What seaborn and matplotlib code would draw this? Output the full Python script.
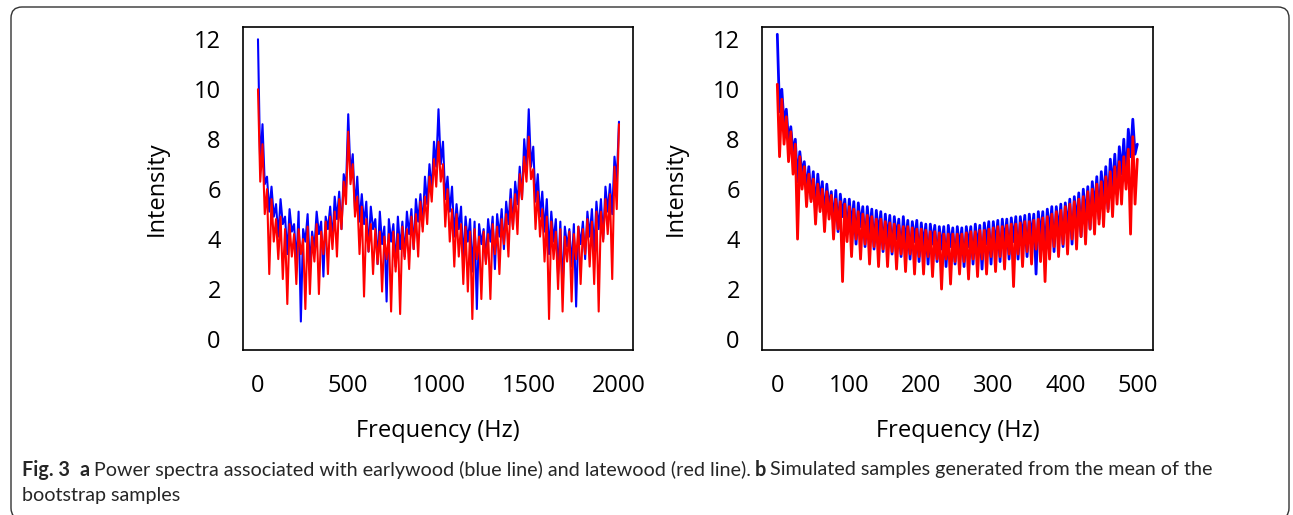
import numpy as np
import pandas as pd
import matplotlib
matplotlib.use("Agg")
import matplotlib.pyplot as plt
from matplotlib.patches import FancyBboxPatch
from matplotlib.transforms import IdentityTransform
import seaborn as sns

# ---------------- data ----------------
# Panel a: frequency 0..2000 Hz, samples every 12.5 Hz (16 values per 200 Hz row)
freq_a = np.linspace(0, 2000, 161)
earlywood_a = [
    12.0, 6.9, 8.6, 6.2, 6.5, 5.1, 6.1, 4.9, 5.4, 4.1, 5.6, 4.6, 4.9, 3.4, 5.2, 4.3,
    4.6, 3.0, 5.1, 0.7, 4.4, 3.9, 5.0, 2.9, 4.3, 3.6, 5.1, 4.2, 4.7, 2.5, 4.9, 4.4,
    5.3, 3.9, 5.7, 4.8, 5.9, 4.4, 6.6, 6.0, 9.0, 6.6, 7.4, 5.2, 6.5, 4.7, 5.8, 4.6,
    5.5, 3.5, 5.3, 4.4, 4.8, 3.0, 5.1, 3.8, 4.5, 1.5, 4.8, 3.9, 4.6, 2.9, 4.9, 3.6,
    4.7, 3.3, 5.1, 4.2, 5.2, 3.6, 5.6, 4.7, 5.8, 4.5, 6.5, 5.4, 7.0, 5.9, 7.9, 6.9,
    9.2, 7.0, 7.9, 5.6, 6.5, 5.1, 6.1, 4.1, 5.4, 4.4, 5.3, 3.1, 4.9, 3.9, 4.8, 2.7,
    4.7, 1.2, 4.6, 3.8, 4.4, 3.1, 4.8, 3.9, 4.9, 2.8, 5.0, 4.1, 5.2, 3.6, 5.5, 4.6,
    6.0, 4.5, 6.3, 5.4, 6.9, 5.6, 8.0, 6.8, 9.2, 6.9, 7.7, 5.5, 6.6, 4.9, 5.9, 4.3,
    5.6, 3.4, 5.1, 3.9, 4.8, 2.6, 4.7, 2.0, 4.5, 3.7, 4.4, 2.9, 4.6, 1.3, 4.5, 3.8,
    4.7, 3.2, 5.1, 4.1, 5.2, 3.5, 5.5, 4.4, 5.6, 4.0, 6.1, 5.1, 6.2, 5.0, 7.3, 6.3,
    8.7,
]
latewood_a = [
    10.0, 6.3, 7.8, 5.0, 6.0, 2.6, 5.6, 3.9, 4.8, 3.2, 4.9, 2.4, 4.4, 1.4, 4.6, 3.3,
    4.2, 2.2, 4.4, 3.4, 4.0, 1.2, 4.5, 1.8, 4.1, 3.1, 4.6, 1.8, 4.3, 3.4, 4.7, 2.6,
    4.9, 3.6, 5.1, 3.3, 5.6, 4.4, 6.3, 5.4, 8.3, 6.2, 7.0, 4.9, 5.7, 3.4, 5.3, 1.7,
    4.8, 3.5, 4.6, 2.6, 4.4, 3.0, 4.3, 1.9, 4.1, 3.2, 4.2, 1.1, 4.3, 2.7, 4.2, 1.0,
    4.5, 3.2, 4.4, 2.8, 4.9, 3.6, 5.0, 3.3, 5.5, 4.3, 5.7, 4.6, 6.5, 5.5, 7.2, 6.1,
    7.9, 6.3, 7.0, 4.5, 6.0, 3.9, 5.2, 2.9, 5.0, 3.3, 4.6, 2.2, 4.5, 1.9, 4.3, 0.8,
    4.4, 3.2, 4.1, 1.6, 4.3, 3.0, 4.2, 1.6, 4.6, 3.4, 4.5, 2.6, 4.8, 3.8, 5.0, 3.3,
    5.6, 4.4, 5.8, 4.2, 6.6, 5.6, 7.3, 6.3, 8.1, 6.4, 6.8, 4.4, 5.9, 4.1, 5.2, 3.1,
    4.9, 0.8, 4.7, 3.2, 4.3, 2.0, 4.4, 1.1, 4.1, 3.1, 4.3, 1.5, 4.2, 3.2, 4.5, 2.2,
    4.4, 3.4, 4.8, 2.9, 4.7, 2.2, 5.1, 1.1, 5.1, 3.9, 5.6, 4.2, 5.8, 2.4, 6.9, 5.2,
    8.6,
]

# Panel b: frequency 0..500 Hz, samples every 3.125 Hz (16 values per 50 Hz row)
freq_b = np.linspace(0, 500, 161)
earlywood_b = [
    12.2, 9.1, 10.0, 8.6, 9.2, 7.9, 8.5, 7.4, 8.0, 6.3, 7.5, 6.6, 7.1, 5.9, 6.9, 5.6,
    6.7, 5.1, 6.6, 5.5, 6.3, 4.8, 6.2, 5.2, 5.9, 4.6, 5.95, 4.3, 5.8, 4.9, 5.6, 4.2,
    5.6, 4.4, 5.5, 3.8, 5.45, 4.5, 5.3, 3.7, 5.3, 4.2, 5.2, 3.6, 5.15, 4.1, 5.1, 3.5,
    5.0, 3.9, 4.95, 3.4, 4.9, 4.0, 4.8, 3.3, 4.9, 3.8, 4.75, 3.2, 4.7, 3.9, 4.75, 3.1,
    4.65, 3.7, 4.6, 3.0, 4.6, 3.8, 4.55, 3.1, 4.5, 3.6, 4.5, 2.9, 4.55, 3.7, 4.45, 3.0,
    4.5, 3.6, 4.45, 2.9, 4.5, 3.7, 4.5, 3.0, 4.6, 3.6, 4.55, 2.8, 4.65, 3.8, 4.7, 3.0,
    4.7, 3.7, 4.75, 3.1, 4.8, 3.8, 4.8, 3.2, 4.85, 3.9, 4.9, 3.2, 4.9, 4.0, 4.95, 3.3,
    5.0, 4.0, 5.0, 2.6, 5.1, 4.1, 5.1, 3.4, 5.2, 4.2, 5.3, 3.5, 5.3, 4.2, 5.4, 3.7,
    5.45, 4.4, 5.6, 3.8, 5.7, 4.6, 5.85, 4.1, 6.0, 4.8, 6.1, 4.4, 6.3, 5.1, 6.5, 4.8,
    6.7, 5.5, 6.9, 5.2, 7.2, 6.0, 7.4, 5.8, 7.7, 6.6, 8.0, 6.3, 8.4, 7.3, 8.8, 7.4,
    7.8,
]
latewood_b = [
    10.2, 7.3, 9.6, 7.8, 8.9, 7.1, 8.3, 6.6, 7.8, 4.0, 7.3, 6.0, 6.9, 5.3, 6.6, 5.5,
    6.4, 4.6, 6.2, 5.1, 6.0, 4.3, 5.9, 4.8, 5.75, 4.0, 5.6, 4.4, 5.5, 2.3, 5.4, 3.9,
    5.3, 3.3, 5.2, 4.0, 5.1, 3.2, 5.0, 3.8, 4.95, 3.0, 4.9, 3.7, 4.8, 2.9, 4.8, 3.6,
    4.7, 2.9, 4.65, 3.5, 4.6, 2.8, 4.55, 3.4, 4.5, 2.7, 4.5, 3.4, 4.45, 2.6, 4.4, 3.3,
    4.4, 2.6, 4.35, 3.3, 4.3, 2.5, 4.3, 3.2, 4.25, 2.0, 4.2, 3.2, 4.2, 2.2, 4.2, 3.1,
    4.2, 2.6, 4.2, 3.1, 4.25, 2.4, 4.3, 3.2, 4.3, 2.5, 4.35, 3.2, 4.35, 2.6, 4.4, 3.3,
    4.45, 2.7, 4.5, 3.3, 4.5, 2.8, 4.55, 3.4, 4.6, 2.1, 4.6, 3.4, 4.65, 2.9, 4.7, 3.5,
    4.7, 3.0, 4.75, 3.6, 4.8, 3.1, 4.85, 2.3, 4.9, 3.2, 5.0, 3.7, 5.1, 3.3, 5.15, 3.8,
    5.3, 3.4, 5.4, 4.0, 5.5, 3.6, 5.6, 4.1, 5.7, 3.8, 5.9, 4.4, 6.0, 4.2, 6.2, 4.6,
    6.3, 4.5, 6.5, 5.1, 6.7, 4.9, 6.9, 5.4, 7.1, 5.4, 7.3, 6.0, 7.6, 4.2, 8.1, 5.4,
    7.2,
]

xticks_a = [0, 500, 1000, 1500, 2000]
xticks_b = [0, 100, 200, 300, 400, 500]
yticks = [0, 2, 4, 6, 8, 10, 12]
x_label = "Frequency (Hz)"
y_label = "Intensity"
caption_bold = "Fig. 3"
caption_line1 = "Power spectra associated with earlywood (blue line) and latewood (red line)."
caption_line1b = "Simulated samples generated from the mean of the"
caption_line2 = "bootstrap samples"

# ---------------- figure ----------------
sns.set_style("white")
plt.rcParams["font.family"] = ["Open Sans", "DejaVu Sans"]

W, H = 1293, 515
fig = plt.figure(figsize=(W / 100, H / 100), dpi=100)

def px_axes(left, top, right, bottom):
    return fig.add_axes([left / W, 1 - bottom / H, (right - left) / W, (bottom - top) / H])

ax_a = px_axes(243, 27.3, 633, 350)
ax_b = px_axes(762, 27.3, 1153, 350)

df_a = pd.DataFrame({"freq": freq_a, "early": earlywood_a, "late": latewood_a})
df_b = pd.DataFrame({"freq": freq_b, "early": earlywood_b, "late": latewood_b})

for ax, df, xt, xlim, lw in [
    (ax_a, df_a, xticks_a, (-83, 2077.6), 1.5),
    (ax_b, df_b, xticks_b, (-21.25, 521.8), 2.0),
]:
    sns.lineplot(data=df, x="freq", y="early", color="#0000FF", lw=lw, ax=ax, estimator=None)
    sns.lineplot(data=df, x="freq", y="late", color="#FF0000", lw=lw, ax=ax, estimator=None)
    ax.set_xlim(*xlim)
    ax.set_ylim(-0.44, 12.48)
    ax.set_xticks(xt)
    ax.set_yticks(yticks)
    ax.set_xticklabels([str(v) for v in xt])
    ax.set_yticklabels([str(v) for v in yticks])
    ax.tick_params(axis="both", direction="out", length=10, width=1.1, colors="black",
                   labelsize=17)
    ax.tick_params(axis="x", pad=7)
    ax.tick_params(axis="y", pad=6)
    for s in ax.spines.values():
        s.set_visible(True)
        s.set_color("black")
        s.set_linewidth(1.2)
    ax.set_xlabel(x_label, fontsize=17, color="black")
    ax.set_ylabel(y_label, fontsize=17, color="black")
    ax.xaxis.set_label_coords(0.5, -0.215)
    ax.yaxis.set_label_coords(-0.19, 0.5)
    ax.set_facecolor("white")

# outer rounded frame (pixel coordinates, y measured from the bottom)
frame = FancyBboxPatch((11, H - 519), 1289 - 11, 519 - 7,
                       boxstyle="round,pad=0,rounding_size=11",
                       transform=IdentityTransform(), fill=False, edgecolor="#333333",
                       linewidth=1.0, clip_on=False)
fig.patches.append(frame)

# caption
cap_fs = 14.2
cap_family = ["Lato", "DejaVu Sans"]
y1 = 1 - 470 / H
y2 = 1 - 495 / H
t = fig.text(22 / W, y1, caption_bold, fontsize=cap_fs, fontweight="bold", va="center",
             ha="left", family=cap_family)
fig.canvas.draw()
r = fig.canvas.get_renderer()

def place(prev, txt, gap, bold=False):
    bb = prev.get_window_extent(r)
    x = (bb.x1 + gap) / W
    return fig.text(x, y1, txt, fontsize=cap_fs, fontweight="bold" if bold else "normal",
                    va="center", ha="left", family=cap_family)

t2 = place(t, "a", 10, bold=True)
t3 = place(t2, caption_line1, 4)
t4 = place(t3, "b", 4, bold=True)
t5 = place(t4, caption_line1b, 4)
fig.text(22 / W, y2, caption_line2, fontsize=cap_fs, va="center", ha="left", family=cap_family)

fig.savefig("out.png", dpi=100, facecolor="white")
